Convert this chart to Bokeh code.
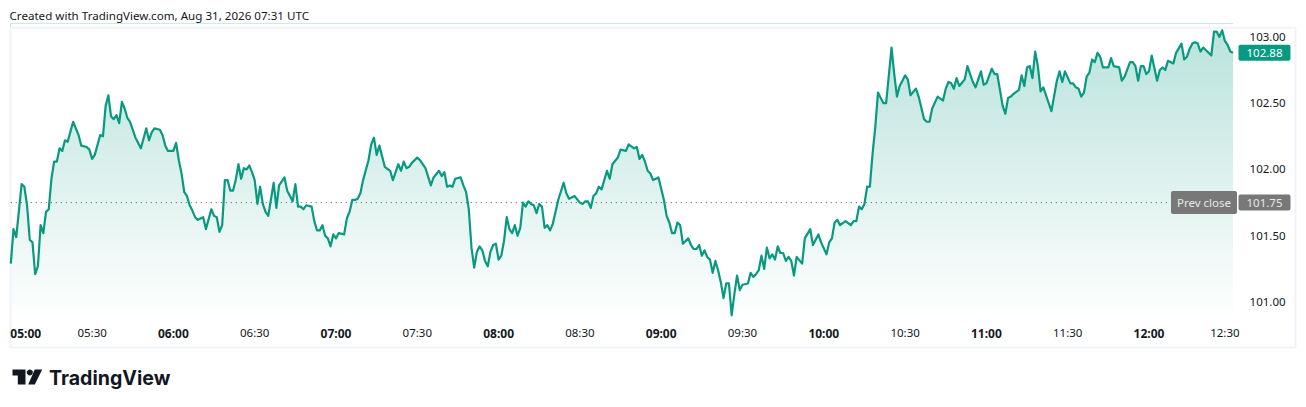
from bokeh.embed import file_html
from bokeh.models import FixedTicker, Label, LinearAxis, PolyAnnotation, Range1d
from bokeh.plotting import figure
from bokeh.resources import INLINE
import numpy as np

# minutes since 05:00 and last price
minutes = [0,1,2,4,5,6,7,8,9,10,11,12,13,14,15,16,17,18,19,20,21,23,24,25,26,28,29,30,31,33,34,35,36,37,38,39,40,41,42,43,44,46,48,50,51,52,53,55,56,57,58,60,61,62,63,64,65,66,67,68,69,71,72,74,75,76,77,78,79,80,81,82,83,84,85,86,87,88,89,90,91,92,93,94,95,97,98,99,101,102,104,105,106,107,108,109,111,112,113,114,115,116,117,118,119,120,121,123,124,125,126,127,128,129,130,132,133,134,135,136,138,140,141,143,144,145,146,147,148,150,151,153,155,156,158,159,160,161,162,163,164,166,167,168,169,170,171,172,173,174,175,176,177,178,179,180,181,182,183,184,185,186,187,188,189,190,191,192,193,194,195,196,197,198,199,200,202,204,205,206,208,210,211,212,213,214,215,216,217,218,220,221,222,224,225,227,228,230,231,232,233,234,235,236,237,239,241,242,243,244,245,246,247,248,250,251,252,253,254,255,256,257,258,259,260,261,262,263,264,265,266,267,268,269,270,272,273,274,275,276,277,278,279,280,281,282,283,284,285,286,287,288,289,290,292,293,295,296,298,299,301,302,303,304,305,306,308,310,311,312,313,314,315,316,317,318,319,320,321,322,323,325,326,327,328,330,331,332,334,335,337,338,339,340,342,344,345,346,347,348,349,350,352,353,355,356,358,359,360,362,363,364,366,367,368,369,370,372,373,374,375,376,377,378,379,380,381,384,386,387,388,389,391,392,393,394,395,396,397,398,399,400,401,402,403,405,406,407,409,410,411,413,414,415,416,417,418,419,420,421,423,424,425,426,427,429,430,432,433,434,435,436,437,438,439,440,443,444,445,446,447,448,449,450,451]
prices = [101.29,101.55,101.49,101.89,101.87,101.73,101.47,101.45,101.21,101.27,101.58,101.52,101.68,101.70,101.93,102.06,102.06,102.16,102.14,102.22,102.21,102.36,102.31,102.26,102.18,102.17,102.15,102.08,102.11,102.26,102.25,102.48,102.56,102.40,102.38,102.41,102.35,102.51,102.46,102.39,102.36,102.24,102.16,102.31,102.22,102.28,102.31,102.30,102.26,102.18,102.14,102.14,102.20,102.07,101.97,101.83,101.80,101.73,101.69,101.64,101.62,101.64,101.55,101.70,101.65,101.64,101.53,101.58,101.92,101.92,101.84,101.84,101.92,102.04,101.93,102.01,102.00,102.03,101.98,101.92,101.74,101.87,101.74,101.68,101.65,101.90,101.71,101.88,101.94,101.84,101.76,101.89,101.72,101.72,101.70,101.73,101.72,101.61,101.54,101.54,101.58,101.50,101.48,101.42,101.51,101.48,101.52,101.51,101.63,101.68,101.77,101.77,101.78,101.82,101.92,102.07,102.19,102.24,102.11,102.18,102.02,101.99,101.92,102.04,101.99,102.06,102.01,102.02,102.05,102.09,102.07,102.01,101.88,101.94,101.99,101.95,101.98,101.87,101.88,101.87,101.93,101.94,101.88,101.83,101.70,101.41,101.26,101.38,101.42,101.39,101.31,101.27,101.38,101.43,101.44,101.32,101.35,101.46,101.64,101.55,101.52,101.58,101.50,101.56,101.75,101.72,101.76,101.74,101.73,101.67,101.74,101.72,101.56,101.58,101.54,101.59,101.77,101.90,101.82,101.78,101.80,101.75,101.74,101.76,101.76,101.71,101.80,101.82,101.87,101.85,101.99,101.93,102.04,102.09,102.15,102.14,102.19,102.16,102.17,102.08,102.11,102.06,101.99,101.97,101.92,101.94,101.77,101.65,101.60,101.52,101.52,101.60,101.58,101.44,101.48,101.43,101.40,101.40,101.43,101.35,101.39,101.34,101.32,101.22,101.31,101.24,101.15,101.03,101.14,101.14,100.90,101.06,101.20,101.09,101.13,101.14,101.22,101.19,101.21,101.24,101.35,101.25,101.41,101.33,101.36,101.32,101.42,101.37,101.37,101.31,101.34,101.31,101.20,101.34,101.29,101.48,101.55,101.43,101.51,101.45,101.36,101.45,101.48,101.60,101.62,101.58,101.61,101.58,101.61,101.61,101.72,101.70,101.74,101.87,101.87,102.12,102.32,102.58,102.54,102.50,102.50,102.92,102.72,102.55,102.63,102.71,102.68,102.56,102.61,102.55,102.38,102.36,102.36,102.46,102.55,102.52,102.61,102.66,102.65,102.61,102.69,102.63,102.68,102.78,102.66,102.62,102.74,102.64,102.65,102.76,102.72,102.72,102.48,102.42,102.54,102.55,102.57,102.60,102.71,102.63,102.77,102.78,102.69,102.89,102.78,102.59,102.62,102.44,102.67,102.74,102.66,102.74,102.65,102.65,102.62,102.61,102.55,102.58,102.70,102.73,102.83,102.81,102.88,102.85,102.77,102.77,102.84,102.78,102.77,102.67,102.70,102.81,102.81,102.78,102.67,102.78,102.78,102.72,102.74,102.86,102.67,102.75,102.77,102.75,102.82,102.80,102.88,102.95,102.83,102.85,102.91,102.95,102.96,102.95,102.89,102.92,102.86,103.04,103.04,103.00,103.05,102.97,102.94,102.89,102.88]

prev_close = 101.75
last_price = 102.88
price_ticks = [101.0, 101.5, 102.0, 102.5, 103.0]
hour_labels = {5.5: "05:00", 60: "06:00", 120: "07:00", 180: "08:00", 240: "09:00", 300: "10:00", 360: "11:00", 420: "12:00"}
half_labels = {30: "05:30", 90: "06:30", 150: "07:30", 210: "08:30", 270: "09:30", 330: "10:30", 390: "11:30", 448: "12:30"}

UP = "#089981"
TEXT = "#131722"
GREY = "#787878"
FONT = "Noto Sans"

# the frame fills the canvas, the chart pane sits inside it
pane_left, pane_right = -0.1, 474.07
pane_bottom, pane_top = 100.657, 103.07

p = figure(width=1298, height=400, frame_width=1298, frame_height=400,
           min_border_left=0, min_border_right=0, min_border_top=0, min_border_bottom=0,
           x_range=Range1d(-3.8, 475.17), y_range=Range1d(100.257, 103.275),
           x_axis_location=None, y_axis_location=None,
           output_backend="svg", toolbar_location=None, background_fill_color="white")
p.grid.visible = False
p.outline_line_color = None

# gradient under the line: bands painted bottom up, then white above the price
edges = np.linspace(100.85, 103.05, 111)
for lo in edges:
    a = 0.28 * (lo - edges[0]) / (edges[-1] - edges[0])
    col = "#%02x%02x%02x" % (round(255 - 247 * a), round(255 - 102 * a), round(255 - 126 * a))
    p.quad(left=minutes[0], right=minutes[-1], bottom=lo, top=103.1, fill_color=col, line_color=None)
p.varea(x=minutes, y1=prices, y2=[103.1] * len(minutes), fill_color="white")

p.quad(left=pane_left, right=pane_right, bottom=pane_bottom, top=pane_top,
       fill_color=None, line_color="#f0f3fa", line_width=2)

p.line([minutes[0], 428], [prev_close, prev_close], line_color="#555555", line_width=1, line_dash="1 4")
p.line(minutes, prices, line_color=UP, line_width=2.2, line_join="round")

# price scale
yaxis = LinearAxis(fixed_location=453.8, ticker=FixedTicker(ticks=price_ticks))
yaxis.major_label_overrides = {t: "%.2f" % t for t in price_ticks}
yaxis.axis_line_color = None
yaxis.major_tick_line_color = None
yaxis.minor_tick_line_color = None
yaxis.major_tick_out = 0
yaxis.major_label_standoff = 9
yaxis.major_label_text_font = FONT
yaxis.major_label_text_font_size = "11.5px"
yaxis.major_label_text_color = TEXT
p.add_layout(yaxis, "right")

# time scale: half hours plain, hours bold
for labels, style in ((half_labels, "normal"), (hour_labels, "bold")):
    xaxis = LinearAxis(fixed_location=100.838, ticker=FixedTicker(ticks=list(labels)),
                       major_label_overrides=labels)
    xaxis.axis_line_color = None
    xaxis.major_tick_line_color = None
    xaxis.minor_tick_line_color = None
    xaxis.major_tick_out = 0
    xaxis.major_label_standoff = 2
    xaxis.major_label_text_font = FONT
    xaxis.major_label_text_font_size = "12px" if style == "bold" else "11.5px"
    xaxis.major_label_text_font_style = style
    xaxis.major_label_text_color = TEXT
    p.add_layout(xaxis, "below")

# tags on the price scale
def tag(text, x, y, color, fill, pad):
    p.add_layout(Label(x=x, y=y, x_units="screen", y_units="data", text=text, text_align="center",
                       text_baseline="middle", text_color=color, text_font=FONT, text_font_size="11.5px",
                       background_fill_color=fill, padding=pad, border_radius=2))

tag("%.2f" % last_price, 1264, last_price, "white", UP, (8, 4))
tag("Prev close", 1203.5, prev_close, "#e8e8e8", GREY, (6, 4))
tag("%.2f" % prev_close, 1264, prev_close, "#e8e8e8", GREY, (8, 4))

p.add_layout(Label(x=9, y=385, x_units="screen", y_units="screen", text="Created with TradingView.com, Aug 31, 2026 07:31 UTC",
                   text_font=FONT, text_font_size="11.6px", text_color=TEXT, text_baseline="middle"))

# logo
INK = "#131722"
for xs, ys in (([12, 25, 25, 17.3, 17.3, 12], [31, 31, 16, 16, 25, 25]),
               ([34.3, 41.7, 34.3, 27.7], [31, 31, 16, 16])):
    p.add_layout(PolyAnnotation(xs=xs, ys=ys, xs_units="screen", ys_units="screen", fill_color=INK, fill_alpha=1, line_alpha=0))
t = np.linspace(0, 2 * np.pi, 17)[:-1]
p.add_layout(PolyAnnotation(xs=list(29.3 + 3 * np.cos(t)), ys=list(28 + 3 * np.sin(t)), xs_units="screen", ys_units="screen",
                            fill_color=INK, fill_alpha=1, line_alpha=0))
p.add_layout(Label(x=48.5, y=23, x_units="screen", y_units="screen", text="TradingView", text_font="Inter",
                   text_font_size="19.6px", text_font_style="bold", text_color=INK, text_baseline="middle"))

open("out.html", "w").write(file_html(p, INLINE))
